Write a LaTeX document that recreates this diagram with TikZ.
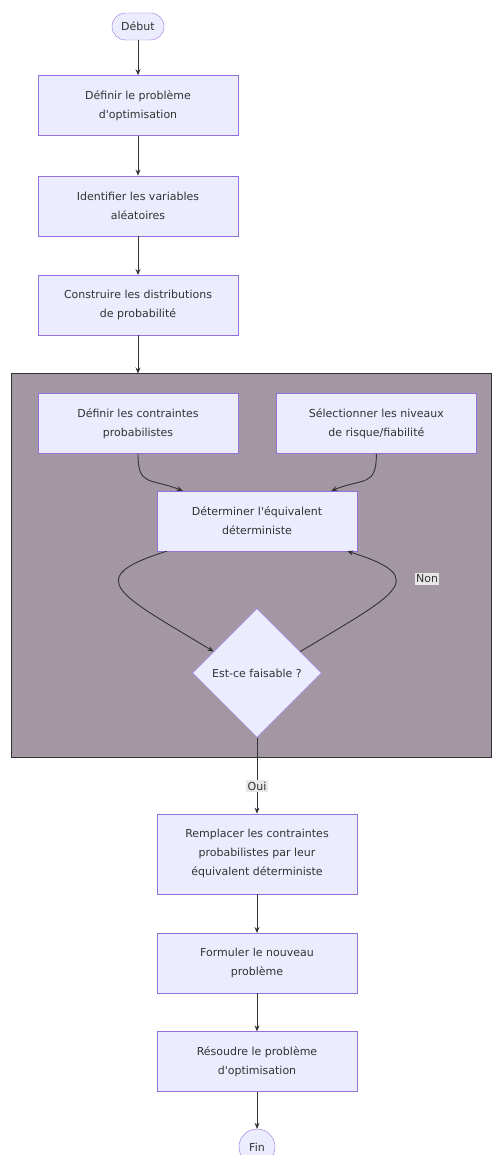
\documentclass[tikz,border=0pt]{standalone}
\usepackage{fontspec}
\setmainfont{DejaVu Sans}
\usetikzlibrary{arrows.meta, positioning, shapes.geometric, calc}

\definecolor{boxfill}{HTML}{ECECFF}
\definecolor{boxline}{HTML}{9370DB}
\definecolor{clusterfill}{RGB}{163,151,163}
\definecolor{edgecol}{HTML}{333333}

\begin{document}
\begin{tikzpicture}[x=1pt, y=1pt, node distance=39pt,
    every node/.style={font=\fontsize{11}{19}\selectfont, text=edgecol},
    box/.style={draw=boxline, fill=boxfill, minimum width=200pt, minimum height=60pt, align=center, inner sep=0pt},
    term/.style={draw=boxline, fill=boxfill, rounded corners=13.5pt, minimum width=52pt, minimum height=27pt},
    decision/.style={diamond, draw=boxline, fill=boxfill, aspect=1, minimum size=129pt, inner sep=0pt},
    flow/.style={draw=edgecol, line width=0.9pt, -{Stealth[length=6pt, width=5pt]}},
    lbl/.style={fill=black!9, inner sep=1.5pt}]
    \useasboundingbox (0,0) rectangle (492,-1155);
    % cluster
    \filldraw[fill=clusterfill, draw=edgecol] (11.5,-373.5) rectangle (491.5,-757);

    \node[term] (debut) at (138,-26.5) {Début};
    \node[box, below=35pt of debut] (pb) {Définir le problème\\d\textquotesingle optimisation};
    \node[box, below=40pt of pb] (vars) {Identifier les variables\\aléatoires};
    \node[box, below=of vars] (distr) {Construire les distributions\\de probabilité};
    \coordinate (cltop) at (138,-373.5);
    \node[box, below=58pt of distr] (contr) {Définir les contraintes\\probabilistes};
    \node[box, right=38pt of contr] (niveaux) {Sélectionner les niveaux\\de risque/fiabilité};
    \node[box] (equiv) at (257,-521) {Déterminer l\textquotesingle équivalent\\déterministe};
    \node[decision, below=57pt of equiv] (faisable) {Est-ce faisable ?};
    \node[lbl] (non) at (427,-579) {Non};
    \node[box, minimum height=80pt, below=76pt of faisable] (rempl) {Remplacer les contraintes\\probabilistes par leur\\équivalent déterministe};
    \node[box, below=of rempl] (formul) {Formuler le nouveau\\problème};
    \node[box, below=38pt of formul] (resoud) {Résoudre le problème\\d\textquotesingle optimisation};
    \node[circle, draw=boxline, fill=boxfill, minimum size=36pt, inner sep=0pt, below=37pt of resoud] (fin) {Fin};

    \draw[flow] (debut) -- (pb);
    \draw[flow] (pb) -- (vars);
    \draw[flow] (vars) -- (distr);
    \draw[flow] (distr) -- (cltop);
    \draw[flow] (contr.south) .. controls +(0,-33) and +(-33,13) .. ([xshift=26pt]equiv.north west);
    \draw[flow] (niveaux.south) .. controls +(0,-33) and +(33,13) .. ([xshift=-26pt]equiv.north east);
    \draw[flow] ([xshift=10pt]equiv.south west) .. controls +(-87,-27) and +(-94,57) .. ($(faisable.west)!0.33!(faisable.north)$);
    \draw[flow] ($(faisable.east)!0.33!(faisable.north)$) .. controls +(94,57) and +(87,-27) .. ([xshift=-10pt]equiv.south east);
    \draw[flow] (faisable) -- node[lbl, pos=0.64] (oui) {Oui} (rempl);
    \draw[flow] (rempl) -- (formul);
    \draw[flow] (formul) -- (resoud);
    \draw[flow] (resoud) -- (fin);
\end{tikzpicture}
\end{document}
